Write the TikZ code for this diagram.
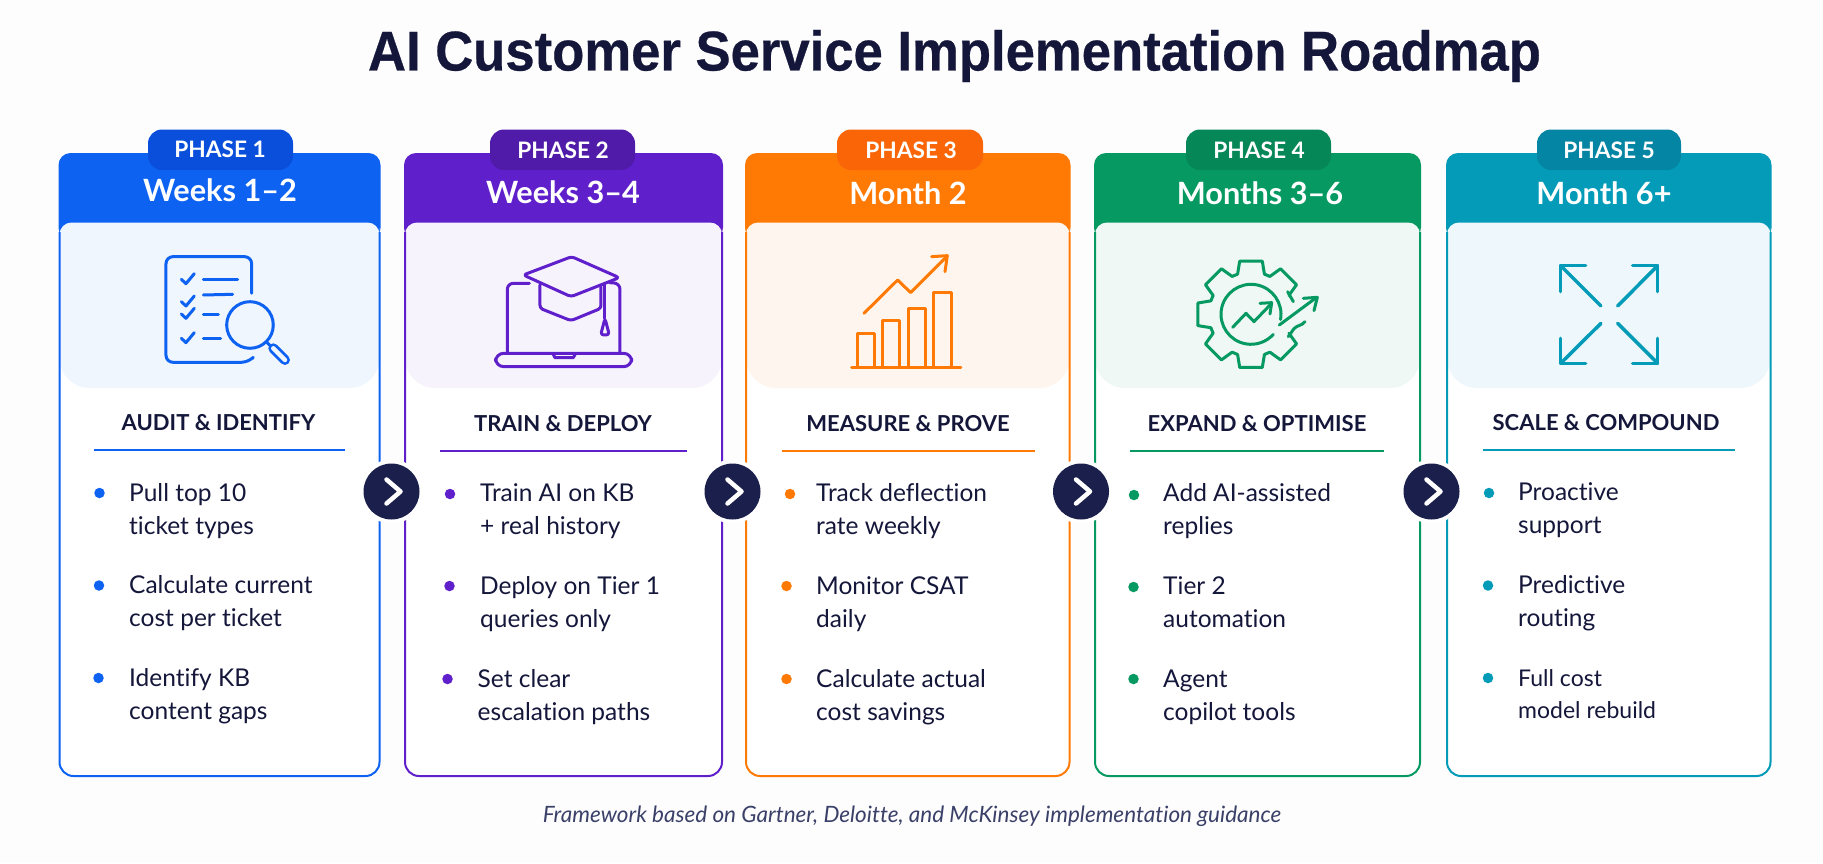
\documentclass[tikz,border=0pt]{standalone}
\usepackage{graphicx}
\usepackage{fontspec}
\setmainfont{Lato}[Ligatures=NoCommon]
\newfontfamily\titlefont{Liberation Sans}[BoldFeatures={FakeBold=0.5}]
\definecolor{bgc}{HTML}{FDFDFE}
\definecolor{ink}{HTML}{14163A}
\definecolor{navy}{HTML}{1A1F4B}
\definecolor{foot}{HTML}{3A4068}
\definecolor{cA}{HTML}{0D62F2}\definecolor{cAb}{HTML}{0A4FDC}\definecolor{cAp}{HTML}{F0F6FE}
\definecolor{cB}{HTML}{5F1FCB}\definecolor{cBb}{HTML}{4F1BA8}\definecolor{cBp}{HTML}{F6F3FD}
\definecolor{cC}{HTML}{FF7A05}\definecolor{cCb}{HTML}{F96507}\definecolor{cCp}{HTML}{FEF6EE}
\definecolor{cD}{HTML}{069A62}\definecolor{cDb}{HTML}{058757}\definecolor{cDp}{HTML}{EFF8F4}
\definecolor{cE}{HTML}{039BB7}\definecolor{cEb}{HTML}{0485A3}\definecolor{cEp}{HTML}{EEF8FC}
\tikzset{
  title/.style={font=\titlefont\bfseries\fontsize{56}{60}\selectfont,text=ink,inner sep=0},
  phaselabel/.style={font=\bfseries\fontsize{22.7}{24}\selectfont,text=white,inner sep=0},
  period/.style={font=\bfseries\fontsize{30.7}{34}\selectfont,text=white,inner sep=0},
  headline/.style={font=\bfseries\fontsize{22}{24}\selectfont,text=ink,inner sep=0},
  item/.style={font=\fontsize{24.5}{33}\selectfont,text=ink,align=left,anchor=base west,inner sep=0},
  dot/.style={circle,inner sep=0,minimum size=10.5pt},
  arrowdisc/.style={circle,fill=navy,inner sep=0,minimum size=56pt},
  chev/.style={draw=white,line width=4.5pt,line cap=round,line join=round},
  ico/.style={line width=3pt,line cap=round,line join=round},
  footnote/.style={font=\itshape\fontsize{22.5}{24}\selectfont,text=foot,inner sep=0},
}
% left right colour-stem badge-left badge-right
\newcommand{\phasecard}[5]{%
  \fill[white] (#1,200) rectangle (#2,770);
  \fill[#3,rounded corners=12pt] (#1-1,240) -- (#1-1,153) -- (#2+1,153) -- (#2+1,240) -- cycle;
  \fill[#3p] (#1,240) [rounded corners=12pt] -- (#1,222.5) -- (#2,222.5) -- (#2,240) [rounded corners=30pt] -- (#2,388) -- (#1,388) [sharp corners] -- cycle;
  \draw[#3,line width=2pt,rounded corners=14pt] (#1,232) -- (#1,776) -- (#2,776) -- (#2,232);
  \fill[#3b,rounded corners=14pt] (#4,129.5) rectangle (#5,170);
}
\begin{document}
\begin{tikzpicture}[x=1pt,y=-1pt]
\useasboundingbox (0,0) rectangle (1823,863);
\fill[bgc] (0,0) rectangle (1823,863);
\node[title] (title) at (954.5,56) {\scalebox{0.94}[1]{AI Customer Service Implementation Roadmap}};

\phasecard{59.5}{379.5}{cA}{148}{293}
\phasecard{405}{722}{cB}{490}{635}
\phasecard{746}{1069.5}{cC}{837}{983}
\phasecard{1095}{1420}{cD}{1186}{1331}
\phasecard{1447}{1770.5}{cE}{1537}{1681}

% phase labels and periods
\node[phaselabel] (p1) at (220,149) {PHASE 1};
\node[phaselabel] (p2) at (563,150) {PHASE 2};
\node[phaselabel] (p3) at (911,150) {PHASE 3};
\node[phaselabel] (p4) at (1259,150.5) {PHASE 4};
\node[phaselabel] (p5) at (1609,150) {PHASE 5};
\node[period] (w1) at (220,190) {Weeks 1–2};
\node[period] (w2) at (563,192) {Weeks 3–4};
\node[period] (w3) at (908,193) {Month 2};
\node[period] (w4) at (1260,193) {Months 3–6};
\node[period] (w5) at (1604,193) {Month 6+};

% headings and rules
\node[headline] (h1) at (218.5,423) {AUDIT \& IDENTIFY};
\node[headline] (h2) at (563,424) {TRAIN \& DEPLOY};
\node[headline] (h3) at (908,424) {MEASURE \& PROVE};
\node[headline] (h4) at (1257,424) {EXPAND \& OPTIMISE};
\node[headline] (h5) at (1606,423) {SCALE \& COMPOUND};
\draw[cA,line width=1.5pt] (94,450) -- (344.5,450);
\draw[cB,line width=1.5pt] (439.5,451) -- (686.5,451);
\draw[cC,line width=1.5pt] (782,451) -- (1035,451);
\draw[cD,line width=1.5pt] (1130,451) -- (1384,451);
\draw[cE,line width=1.5pt] (1482.5,450) -- (1734.5,450);

% bullets
\node[dot,fill=cA] (b11) at (99.5,493) {};
\node[dot,fill=cA] (b12) at (99,585.5) {};
\node[dot,fill=cA] (b13) at (98.5,678) {};
\node[dot,fill=cB] (b21) at (450,494) {};
\node[dot,fill=cB] (b22) at (449.5,586) {};
\node[dot,fill=cB] (b23) at (447.5,679) {};
\node[dot,fill=cC] (b31) at (790,494) {};
\node[dot,fill=cC] (b32) at (786.5,586) {};
\node[dot,fill=cC] (b33) at (786.5,679) {};
\node[dot,fill=cD] (b41) at (1134,495) {};
\node[dot,fill=cD] (b42) at (1133.5,587) {};
\node[dot,fill=cD] (b43) at (1133.5,679) {};
\node[dot,fill=cE] (b51) at (1489,493) {};
\node[dot,fill=cE] (b52) at (1488,585.5) {};
\node[dot,fill=cE] (b53) at (1488,678) {};

% item texts
\node[item] (t11) at (129,534) {Pull top 10\\ticket types};
\node[item] (t12) at (129,626) {Calculate current\\cost per ticket};
\node[item] (t13) at (129,719) {Identify KB\\content gaps};
\node[item] (t21) at (480,534) {Train AI on KB\\+ real history};
\node[item] (t22) at (480,627) {Deploy on Tier 1\\queries only};
\node[item] (t23) at (477.5,720) {Set clear\\escalation paths};
\node[item] (t31) at (816,534) {Track deflection\\rate weekly};
\node[item] (t32) at (816,627) {Monitor CSAT\\daily};
\node[item] (t33) at (816,720) {Calculate actual\\cost savings};
\node[item] (t41) at (1163,534) {Add AI-assisted\\replies};
\node[item] (t42) at (1163,627) {Tier 2\\automation};
\node[item] (t43) at (1163,720) {Agent\\copilot tools};
\node[item] (t51) at (1518,533) {Proactive\\support};
\node[item] (t52) at (1518,626) {Predictive\\routing};
\node[item,font=\fontsize{23}{32}\selectfont] (t53) at (1518,718) {Full cost\\model rebuild};

% arrow discs between the cards
\foreach \n/\cx in {1/391.5,2/732.5,3/1081,4/1431.5}{
  \fill[white] (\cx,491.5) circle (32pt);
  \node[arrowdisc] (c\n) at (\cx,491.5) {};
  \draw[chev] ([shift={(-5,-12)}]c\n.center) -- ([shift={(9,0)}]c\n.center) -- ([shift={(-5,12)}]c\n.center);
}

% icon 1: checklist and magnifier
\begin{scope}[xshift=40pt,yshift=-110pt,x=0.3333pt,y=-0.3333pt,draw=cA,ico]
  \draw[rounded corners=7pt] (635,550) -- (635,440) -- (378,440) -- (378,757) -- (625,757) -- (636,746);
  \foreach \y in {508,575,612,685}{\draw (424,\y) -- (438,\y+13) -- (463,\y-17);}
  \draw (490,508) -- (593,508); \draw (490,555) -- (578,553);
  \draw (490,615) -- (535,615); \draw (490,685) -- (542,685);
  \draw (630,645) circle (23.3pt);
  \draw (678,695) -- (692,708);
  \draw[line width=10pt] (700,715) -- (735,750);
  \draw[cAp,line width=4.5pt] (700,715) -- (735,750);
\end{scope}

% icon 2: laptop and graduation cap
\begin{scope}[xshift=400pt,yshift=-110pt,x=0.3333pt,y=-0.3333pt,draw=cB,ico]
  \draw[rounded corners=6pt] (388,520) -- (322,520) -- (322,730);
  \draw[rounded corners=6pt] (628,518) -- (660,520) -- (660,730);
  \draw[rounded corners=3pt] (515,440) -- (658,503) -- (513,560) -- (370,495) -- cycle;
  \draw[rounded corners=3pt] (420,525) -- (420,595) -- (513,632) -- (603,595) -- (603,530);
  \draw (615,520) -- (615,625);
  \draw[rounded corners=3pt] (615,625) -- (602,675) -- (628,675) -- cycle;
  \draw[rounded corners=8pt] (287,730) -- (287,770) -- (695,770) -- (695,730) -- cycle;
  \draw (458,730) -- (465,743) -- (520,743) -- (527,730);
\end{scope}

% icon 3: bar chart with rising arrow
\begin{scope}[xshift=740pt,yshift=-110pt,x=0.3333pt,y=-0.3333pt,draw=cC,ico]
  \draw (352,772) |- (403,670) -- (403,772);
  \draw (428,772) |- (480,632) -- (480,772);
  \draw (505,772) |- (558,597) -- (558,772);
  \draw (582,772) |- (636,547) -- (636,772);
  \draw (335,773) -- (663,773);
  \draw (372,610) -- (473,510) -- (512,548) -- (620,440);
  \draw (575,440) -- (622,437) -- (615,485);
\end{scope}

% icon 4: gear with growth arrows
\begin{scope}[xshift=1090pt,yshift=-110pt,x=0.3333pt,y=-0.3333pt,draw=cD,ico]
  \draw (610,575) -- (593,545);
  \draw (595,680) -- (612,656) .. controls (622,645) and (635,648) .. (645,635);
  \draw (568,645) -- (680,562);
  \draw (640,565) -- (682,562) -- (672,602);
  \draw (428,652) -- (468,610) -- (492,635) -- (543,582);
  \draw (510,580) -- (545,578) -- (540,612);
\end{scope}
\begin{scope}[shift={(1251,314.3)},x=0.3333pt,y=0.3333pt,draw=cD,ico]
  \foreach \a in {45,90,...,315}{
    \draw (\a-18.5:127) -- (\a-12:163) -- (\a+12:163) -- (\a+18.5:127);
  }
  \foreach \a in {45,90,...,270}{
    \draw (\a+18.5:127) arc[start angle=\a+18.5,end angle=\a+26.5,radius=127];
  }
  \draw (-10:90) arc[start angle=-10,end angle=318,radius=90];
\end{scope}

% icon 5: four outward arrows
\begin{scope}[xshift=1430pt,yshift=-110pt,x=0.3333pt,y=-0.3333pt,draw=cE,ico,line width=3.5pt]
  \draw (513,588) -- (392,467); \draw (467,467) -- (392,467) -- (392,545);
  \draw (563,588) -- (683,467); \draw (608,467) -- (683,467) -- (683,545);
  \draw (513,640) -- (392,760); \draw (392,685) -- (392,760) -- (467,760);
  \draw (563,640) -- (683,760); \draw (608,760) -- (683,760) -- (683,685);
\end{scope}

\node[footnote] (fn) at (912,816) {Framework based on Gartner, Deloitte, and McKinsey implementation guidance};
\end{tikzpicture}
\end{document}
